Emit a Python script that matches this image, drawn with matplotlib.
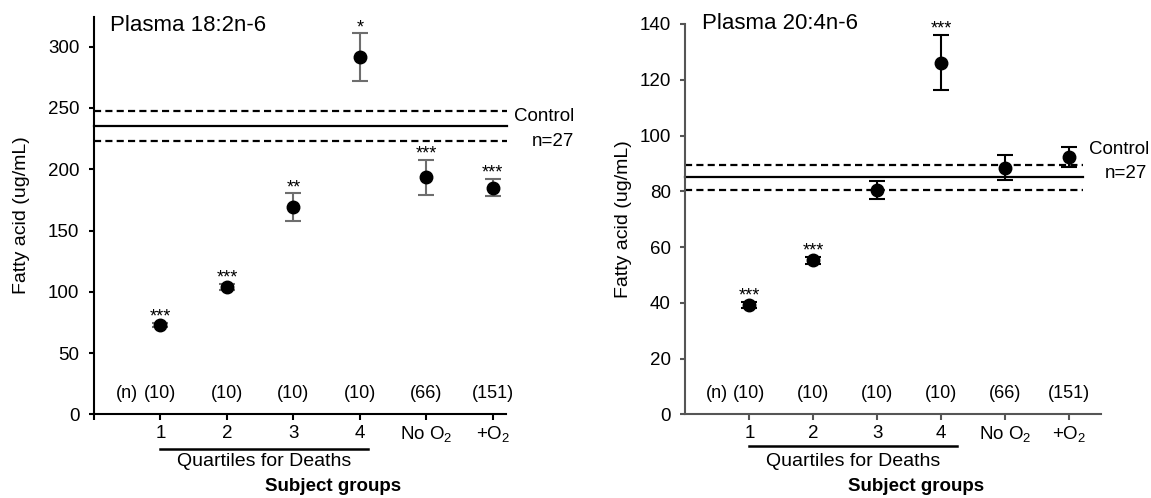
import matplotlib
matplotlib.use('Agg')
import matplotlib.pyplot as plt
from matplotlib.transforms import offset_copy

plt.rcParams['font.family'] = ['Liberation Sans', 'DejaVu Sans']
plt.rcParams['mathtext.fontset'] = 'custom'
plt.rcParams['mathtext.rm'] = 'Liberation Sans'

groups = ['1', '2', '3', '4', 'No O$_{\\mathregular{2}}$', '+O$_{\\mathregular{2}}$']
counts = ['(10)', '(10)', '(10)', '(10)', '(66)', '(151)']

# 18:2n-6 (linoleic)
la_mean = [72.9, 103.6, 168.9, 291.3, 193.4, 184.9]
la_err = [2.0, 2.5, 11.4, 19.5, 14.2, 7.1]
la_stars = ['***', '***', '**', '*', '***', '***']
la_control = 235.0
la_control_sd = 12.3

# 20:4n-6 (arachidonic)
aa_mean = [39.2, 55.3, 80.5, 126.1, 88.5, 92.2]
aa_err = [1.2, 1.3, 3.1, 9.9, 4.5, 3.6]
aa_stars = ['***', '***', '', '***', '', '']
aa_control = 85.0
aa_control_sd = 4.45

PX = 0.72  # points per pixel at dpi 100

fig = plt.figure(figsize=(11.51, 4.98), dpi=100)
W, H = 1151, 498


def axes_px(x0, x1, y0, y1):
    return fig.add_axes([x0 / W, 1 - y1 / H, (x1 - x0) / W, (y1 - y0) / H])


def draw_panel(ax, mean, err, stars, ctrl, ctrl_sd, title, ymax, ystep, xmax,
               err_color, spine_color, tick_at_zero, ylab_x, title_y,
               bracket_end, bracket_dy, ctrl_end, ctrl_txt_dy, n27_dy):
    xs = list(range(1, len(mean) + 1))

    ax.errorbar(xs, mean, yerr=err, fmt='none', ecolor=err_color, elinewidth=1.5,
                capsize=6, capthick=1.5, zorder=3)
    ax.plot(xs, mean, 'o', color='black', markersize=9, zorder=4)

    for x, m, e, s in zip(xs, mean, err, stars):
        if s:
            ax.annotate(s, (x, m + e), xytext=(0, 1), textcoords='offset points',
                        ha='center', va='baseline', fontsize=13)

    # control mean +/- sd
    ax.plot([0, ctrl_end], [ctrl, ctrl], color='black', lw=1.6, clip_on=False, zorder=2)
    for yy in (ctrl - ctrl_sd, ctrl + ctrl_sd):
        ax.plot([0, ctrl_end], [yy, yy], color='black', lw=1.6,
                linestyle=(0, (3.2, 1.9)), clip_on=False, zorder=2)
    ax.annotate('Control', (6.32, ctrl), xytext=(0, ctrl_txt_dy * PX),
                textcoords='offset points', fontsize=13.5, ha='left', va='center',
                annotation_clip=False)
    ax.annotate('n=27', (7.22, ctrl), xytext=(0, n27_dy * PX),
                textcoords='offset points', fontsize=13.5, ha='right', va='center',
                annotation_clip=False)

    ax.set_xlim(0, xmax)
    ax.set_ylim(0, ymax)
    ax.set_yticks([v * ystep for v in range(int(ymax // ystep) + 1)])
    if tick_at_zero:
        ax.set_xticks([0] + xs)
        ax.set_xticklabels([''] + groups)
    else:
        ax.set_xticks(xs)
        ax.set_xticklabels(groups)

    for side in ('top', 'right'):
        ax.spines[side].set_visible(False)
    for side in ('left', 'bottom'):
        ax.spines[side].set_color(spine_color)
        ax.spines[side].set_linewidth(1.5)
    ax.tick_params(axis='x', length=4.5, width=1.5, color=spine_color, pad=3, labelsize=13.5)
    ax.tick_params(axis='y', length=3.5, width=1.5, color=spine_color, pad=7, labelsize=13.5)

    ax.set_ylabel('Fatty acid (ug/mL)', fontsize=14)
    ax.yaxis.set_label_coords(ylab_x, 0.5)
    ax.text(0.04, title_y, title, transform=ax.transAxes, fontsize=16,
            ha='left', va='center')

    # group sizes just above the x axis
    n_trans = offset_copy(ax.get_xaxis_transform(), fig=fig, y=21 * PX, units='points')
    ax.text(0.5, 0, '(n)', transform=n_trans, fontsize=13, ha='center', va='center')
    for x, c in zip(xs, counts):
        ax.text(x, 0, c, transform=n_trans, fontsize=13, ha='center', va='center')

    # bracket under the quartiles
    br_trans = offset_copy(ax.get_xaxis_transform(), fig=fig, y=-bracket_dy * PX, units='points')
    ax.plot([1, bracket_end], [0, 0], color='black', lw=1.8, transform=br_trans, clip_on=False)
    q_trans = offset_copy(ax.get_xaxis_transform(), fig=fig, y=-47 * PX, units='points')
    ax.text((1 + bracket_end) / 2, 0, 'Quartiles for Deaths', transform=q_trans,
            fontsize=14, ha='center', va='center')
    s_trans = offset_copy(ax.get_xaxis_transform(), fig=fig, y=-72 * PX, units='points')
    ax.text(3.6, 0, 'Subject groups', transform=s_trans, fontsize=13.5,
            fontweight='bold', ha='center', va='center')


ax1 = axes_px(94, 506, 16.7, 414.3)
draw_panel(ax1, la_mean, la_err, la_stars, la_control, la_control_sd,
           'Plasma 18:2n-6', 324.5, 50, 6.2, '#6e6e6e', 'black', True,
           -0.155, 0.977, 4.12, 35, 6.22, 10, -15)

ax2 = axes_px(685.4, 1101, 24, 414.3)
draw_panel(ax2, aa_mean, aa_err, aa_stars, aa_control, aa_control_sd,
           'Plasma 20:4n-6', 140, 20, 6.5, 'black', '#555555', False,
           -0.128, 1.0, 4.25, 32, 6.22, 28, 4)

fig.savefig('out.png', dpi=100)
